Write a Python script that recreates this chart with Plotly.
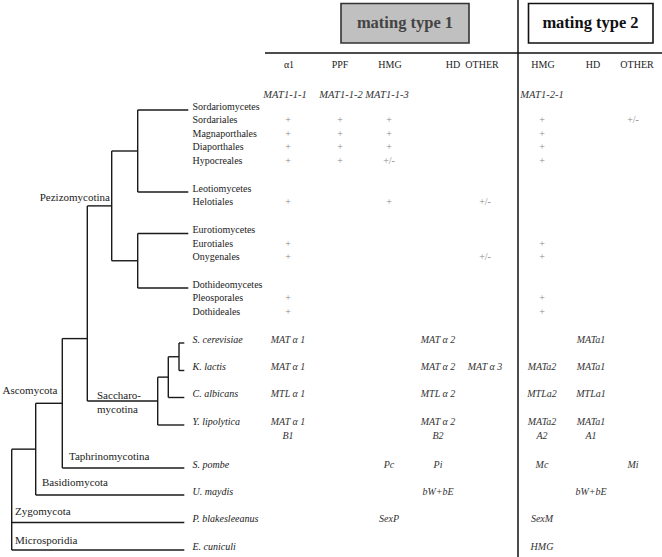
import plotly.graph_objects as go

W, H = 662, 557
SERIF = "Liberation Serif"

# ---------------- data ----------------
group_titles = ["mating type 1", "mating type 2"]
col_headers = ["α1", "PPF", "HMG", "HD", "OTHER", "HMG", "HD", "OTHER"]
gene_names = ["MAT1-1-1", "MAT1-1-2", "MAT1-1-3", "", "", "MAT1-2-1", "", ""]

row_labels = [
    "Sordariomycetes", "Sordariales", "Magnaporthales", "Diaporthales", "Hypocreales",
    "Leotiomycetes", "Helotiales",
    "Eurotiomycetes", "Eurotiales", "Onygenales",
    "Dothideomycetes", "Pleosporales", "Dothideales",
    "S. cerevisiae", "K. lactis", "C. albicans", "Y. lipolytica", "",
    "S. pombe", "U. maydis", "P. blakesleeanus", "E. cuniculi",
]
species = ["S. cerevisiae", "K. lactis", "C. albicans", "Y. lipolytica",
           "S. pombe", "U. maydis", "P. blakesleeanus", "E. cuniculi"]

cells = [
    ["", "", "", "", "", "", "", ""],
    ["+", "+", "+", "", "", "+", "", "+/-"],
    ["+", "+", "+", "", "", "+", "", ""],
    ["+", "+", "+", "", "", "+", "", ""],
    ["+", "+", "+/-", "", "", "+", "", ""],
    ["", "", "", "", "", "", "", ""],
    ["+", "", "+", "", "+/-", "", "", ""],
    ["", "", "", "", "", "", "", ""],
    ["+", "", "", "", "", "+", "", ""],
    ["+", "", "", "", "+/-", "+", "", ""],
    ["", "", "", "", "", "", "", ""],
    ["+", "", "", "", "", "+", "", ""],
    ["+", "", "", "", "", "+", "", ""],
    ["MAT α 1", "", "", "MAT α 2", "", "", "MATa1", ""],
    ["MAT α 1", "", "", "MAT α 2", "MAT α 3", "MATa2", "MATa1", ""],
    ["MTL α 1", "", "", "MTL α 2", "", "MTLa2", "MTLa1", ""],
    ["MAT α 1", "", "", "MAT α 2", "", "MATa2", "MATa1", ""],
    ["B1", "", "", "B2", "", "A2", "A1", ""],
    ["", "", "Pc", "Pi", "", "Mc", "", "Mi"],
    ["", "", "", "bW+bE", "", "", "bW+bE", ""],
    ["", "", "SexP", "", "", "SexM", "", ""],
    ["", "", "", "", "", "HMG", "", ""],
]

# tree topology: node -> children (leaves are row labels)
tree = {
    "sord_leo": ["Sordariomycetes", "Leotiomycetes"],
    "euro_doth": ["Eurotiomycetes", "Dothideomycetes"],
    "Pezizomycotina": ["sord_leo", "euro_doth"],
    "sc_kl": ["S. cerevisiae", "K. lactis"],
    "sc_kl_ca": ["sc_kl", "C. albicans"],
    "Saccharomycotina": ["sc_kl_ca", "Y. lipolytica"],
    "pez_sac": ["Pezizomycotina", "Saccharomycotina"],
    "Ascomycota": ["pez_sac", "S. pombe"],
    "dikarya": ["Ascomycota", "U. maydis"],
    "root": ["dikarya", "P. blakesleeanus", "E. cuniculi"],
}
clade_labels = ["Pezizomycotina", "Ascomycota", "Saccharo-", "mycotina",
                "Taphrinomycotina", "Basidiomycota", "Zygomycota", "Microsporidia"]

# ---------------- layout (positions) ----------------
row_y = [107, 120.5, 134, 147.5, 161, 189, 202.5, 230.5, 244, 257.5,
         285, 298.5, 312, 340, 367.5, 394.5, 422, 436.5, 465, 492, 519.5, 547]
col_x = [288, 340, 389, 438, 485, 542, 591, 633]
header_x = [289, 340, 390, 453, 482, 543, 593, 637]
gene_x = [285, 341, 387, 0, 0, 542, 0, 0]
HEADER_Y, GENE_Y = 65, 95
LABEL_X = 192.5
node_x = {"sord_leo": 137.7, "euro_doth": 137.7, "Pezizomycotina": 111.7,
          "sc_kl": 179, "sc_kl_ca": 168.3, "Saccharomycotina": 157.7,
          "pez_sac": 87.3, "Ascomycota": 62.3, "dikarya": 35.7, "root": 11.7}
attach_frac = {"pez_sac": 0.68}
clade_xy = [(110, 198, "middle left"), (2.5, 391, "middle right"),
            (97, 396, "middle right"), (97, 410, "middle right"),
            (69, 457, "middle right"), (42, 483, "middle right"),
            (15, 512, "middle right"), (15, 541, "middle right")]

fig = go.Figure()

# ---------------- tree ----------------
ypos = {lab: y + 3 for lab, y in zip(row_labels, row_y) if lab}
tx, ty = [], []


def leaf_end(name):
    return 184.3 if name in species else 188.3


def build(node):
    kids = tree[node]
    ys = []
    for k in kids:
        if k in tree:
            build(k)
            ys.append(ypos[k])
            tx.extend([node_x[node], node_x[k], None])
        else:
            ys.append(ypos[k])
            tx.extend([node_x[node], leaf_end(k), None])
        ty.extend([ys[-1], ys[-1], None])
    tx.extend([node_x[node], node_x[node], None])
    ty.extend([min(ys), max(ys), None])
    f = attach_frac.get(node, 0.5)
    ypos[node] = ys[0] + f * (ys[-1] - ys[0])


build("root")
fig.add_trace(go.Scatter(x=tx, y=ty, mode="lines", cliponaxis=False,
                         line=dict(color="#1a1a1a", width=1.4), hoverinfo="skip"))


def text_trace(x, y, text, size, color, pos="middle center"):
    return go.Scatter(x=x, y=y, text=text, mode="text", textposition=pos,
                      cliponaxis=False, hoverinfo="skip",
                      textfont=dict(family=SERIF, size=size, color=color))


# ---------------- row labels ----------------
lx, ly, lt = [], [], []
for lab, y in zip(row_labels, row_y):
    if not lab:
        continue
    lx.append(LABEL_X)
    ly.append(y)
    lt.append(f"<i>{lab}</i>" if lab in species else lab)
fig.add_trace(text_trace(lx, ly, lt, 10, "#222", "middle right"))

# clade labels
fig.add_trace(text_trace([c[0] for c in clade_xy], [c[1] for c in clade_xy],
                         clade_labels, 11, "#222", [c[2] for c in clade_xy]))

# ---------------- column headers ----------------
fig.add_trace(text_trace(header_x, [HEADER_Y] * len(col_headers), col_headers, 10, "#222"))
gx = [x for x, g in zip(gene_x, gene_names) if g]
gt = [f"<i>{g}</i>" for g in gene_names if g]
fig.add_trace(text_trace(gx, [GENE_Y] * len(gx), gt, 10.5, "#333"))

# ---------------- cells ----------------
px, py, pt = [], [], []
nx, ny, nt = [], [], []
for row, y in zip(cells, row_y):
    for v, x in zip(row, col_x):
        if not v:
            continue
        if v in ("+", "+/-"):
            px.append(x); py.append(y); pt.append(v)
        else:
            nx.append(x); ny.append(y); nt.append(f"<i>{v}</i>")
fig.add_trace(text_trace(px, py, pt, 10, "#8a8a8a"))
fig.add_trace(text_trace(nx, ny, nt, 10, "#333"))

# ---------------- header boxes and dividers ----------------
shapes = [
    dict(type="rect", x0=341, x1=469, y0=3.5, y1=43, xref="x", yref="y",
         fillcolor="#c0c0c0", line=dict(color="#333", width=1.6), layer="below"),
    dict(type="rect", x0=528.5, x1=653, y0=3.5, y1=43, xref="x", yref="y",
         fillcolor="white", line=dict(color="#111", width=1.6), layer="below"),
    dict(type="line", x0=265, x1=W, y0=53, y1=53, xref="x", yref="y",
         line=dict(color="#111", width=1.5)),
    dict(type="line", x0=518, x1=518, y0=0, y1=H, xref="x", yref="y",
         line=dict(color="#111", width=1.5)),
]
fig.add_trace(text_trace([405, 590.5], [23.5, 23.5],
                         [f"<b>{t}</b>" for t in group_titles], 16.5, ["#444", "#111"]))

fig.update_layout(
    width=W, height=H, margin=dict(l=0, r=0, t=0, b=0),
    paper_bgcolor="white", plot_bgcolor="white", showlegend=False,
    xaxis=dict(range=[0, W], visible=False, fixedrange=True),
    yaxis=dict(range=[H, 0], visible=False, fixedrange=True),
    shapes=shapes,
)
# remove the browser's default body margin so the figure fills the window
fig.write_html("out.html", config={"displayModeBar": False},
               post_script="document.body.style.margin='0';document.body.style.overflow='hidden';")
